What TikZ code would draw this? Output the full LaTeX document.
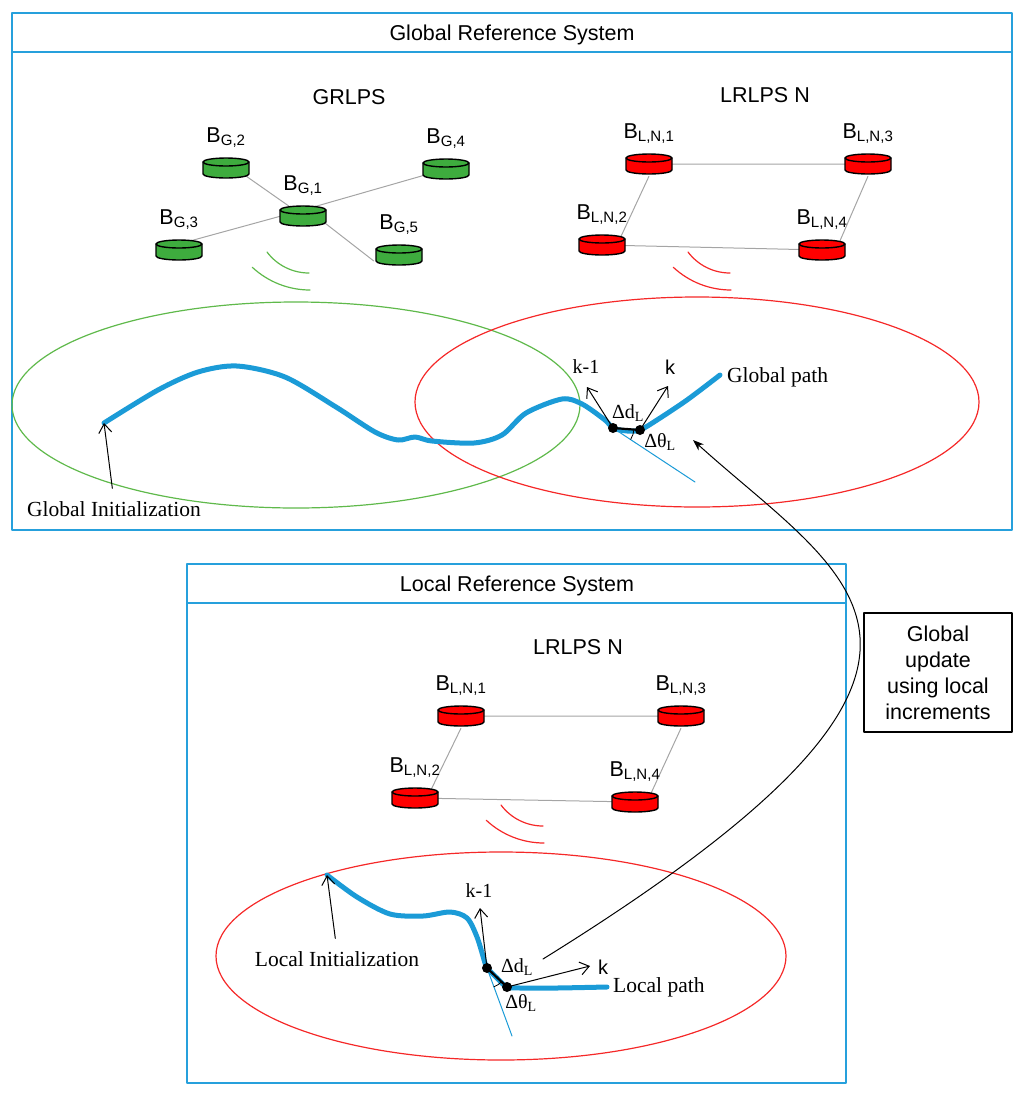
\documentclass[tikz,border=0pt]{standalone}
\usepackage{fontspec}
\setmainfont{Liberation Serif}
\setsansfont{Liberation Sans}
\usetikzlibrary{arrows.meta,backgrounds}
\definecolor{frameblue}{RGB}{38,160,220}
\definecolor{pathblue}{RGB}{27,155,215}
\definecolor{cangreen}{RGB}{62,172,62}
\definecolor{zonegreen}{RGB}{95,185,75}
\definecolor{canred}{RGB}{255,0,0}
\definecolor{zonered}{RGB}{245,40,40}
\definecolor{linkgray}{RGB}{165,165,165}

\begin{document}
\begin{tikzpicture}[x=1pt,y=-1pt,line join=round,line cap=round,
	font=\sffamily\fontsize{21.5}{26}\selectfont,
	>={Straight Barb[length=9pt,width=13pt]},
	every node/.style={inner sep=0pt},
	label distance=8pt,
	frame/.style={draw=frameblue,line width=2pt},
	zone/.style={line width=1.2pt},
	route/.style={draw=pathblue,line width=5pt},
	link/.style={draw=linkgray,line width=1pt},
	serif/.style={font=\rmfamily\fontsize{21.5}{26}\selectfont},
	small/.style={font=\rmfamily\fontsize{20}{24}\selectfont},
	can/.style={minimum width=50pt,minimum height=24pt,path picture={
		\draw[line width=1.4pt,fill=#1] ([shift={(-23pt,6pt)}]path picture bounding box.center) -- ++(0pt,-12pt)
			arc[start angle=180,end angle=360,x radius=23pt,y radius=4pt] -- ++(0pt,12pt)
			arc[start angle=0,end angle=180,x radius=23pt,y radius=4pt] -- cycle;
		\draw[line width=1.4pt] ([shift={(-23pt,6pt)}]path picture bounding box.center)
			arc[start angle=180,end angle=360,x radius=23pt,y radius=4pt];}}]
	
	\useasboundingbox (0,0) rectangle (1024,1096);
	\draw[frame] (12,13) rectangle (1012,530) (12,52) -- (1012,52); % global frame
	\draw[frame] (187,564) rectangle (846,1083) (187,603) -- (846,603); % local frame
	\node (gtitle) at (512,34.5) {Global Reference System};
	\node (ltitle) at (517,585.5) {Local Reference System};
	
	% zones
	\draw[zone,zonegreen] (296,405) ellipse[x radius=284pt,y radius=103pt];
	\draw[zone,zonered] (697,402) ellipse[x radius=282pt,y radius=105pt];
	\draw[zone,zonered] (501,956) ellipse[x radius=285pt,y radius=104pt];
	\foreach \x/\y/\c in {309/273/zonegreen,730/273/zonered,543/826/zonered}{
		\draw[zone,\c] (\x,\y) arc[start angle=270,end angle=217,radius=52.5pt];
		\draw[zone,\c] (\x+1,\y+17) arc[start angle=270,end angle=227,radius=84.6pt];
	}
	
	% beacons
	\node (grlps) at (349,97) {GRLPS};
	\node[can=cangreen,label={above:B\textsubscript{G,1}}] (g1) at (303,216) {};
	\node[can=cangreen,label={above:B\textsubscript{G,2}}] (g2) at (226,168) {};
	\node[can=cangreen,label={above:B\textsubscript{G,3}}] (g3) at (179,250) {};
	\node[can=cangreen,label={above:B\textsubscript{G,4}}] (g4) at (446,169) {};
	\node[can=cangreen,label={above:B\textsubscript{G,5}}] (g5) at (399,255) {};
	\node (lrlps) at (765,95) {LRLPS N};
	\node[can=canred,label={above:B\textsubscript{L,N,1}}] (n1) at (649,164) {};
	\node[can=canred,label={above:B\textsubscript{L,N,2}}] (n2) at (602,245) {};
	\node[can=canred,label={above:B\textsubscript{L,N,3}}] (n3) at (868,164) {};
	\node[can=canred,label={above:B\textsubscript{L,N,4}}] (n4) at (822,250) {};
	\node (llrlps) at (578,647) {LRLPS N};
	\node[can=canred,label={above:B\textsubscript{L,N,1}}] (m1) at (461,716) {};
	\node[can=canred,label={above:B\textsubscript{L,N,2}}] (m2) at (415,798) {};
	\node[can=canred,label={above:B\textsubscript{L,N,3}}] (m3) at (681,716) {};
	\node[can=canred,label={above:B\textsubscript{L,N,4}}] (m4) at (635,802) {};
	\begin{scope}[on background layer]
		\draw[link] ([yshift=6pt]g2.center) -- (g1.center);
		\draw[link] ([yshift=6pt]g3.center) -- ([yshift=6pt]g1.center);
		\draw[link] ([yshift=6pt]g1.center) -- (g4.center);
		\draw[link] ([yshift=10pt]g1.center) -- ([yshift=-6pt]g5.west);
		\draw[link] (n1.center) -- (n3.center) (n2.center) -- (n4.center);
		\draw[link] (n1.south) -- ([xshift=15pt]n2.center) (n3.south) -- ([xshift=14pt]n4.center);
		\draw[link] (m1.center) -- (m3.center) (m2.center) -- (m4.center);
		\draw[link] (m1.south) -- ([xshift=12pt]m2.center) (m3.south) -- ([xshift=12pt]m4.center);
	\end{scope}
	
	% global path
	\coordinate (gstart) at (104,423);
	\coordinate (gprev) at (613,428);
	\coordinate (gnext) at (640,430);
	\coordinate (gtan) at (695,482);
	\coordinate (gkm1) at (587,387);
	\coordinate (gk) at (668,386);
	\draw[route] plot[smooth] coordinates {(104,423) (158,390) (198,372) (237,366) (285,377) (336,407) (375,432) (398,440) (415,437) (432,441) (474,443) (502,435) (526,413) (562,399) (582,404) (605,420) (613,428) (627,431) (640,430) (657,420) (687,400) (720,375)};
	\draw[pathblue,line width=1pt] (gprev) -- (gtan);
	\draw[line width=2.2pt] (gprev) -- (gnext);
	\fill (gprev) circle[radius=5pt] (gnext) circle[radius=5pt];
	\draw[line width=0.8pt] (gprev) ++(-4:21pt) arc[start angle=-4,end angle=-33,radius=21pt];
	\draw[->,line width=1pt] (gprev) -- (gkm1);
	\draw[->,line width=1pt] (gnext) -- (gk);
	\node[small] (tgkm1) at (586,367) {k-1};
	\node[font=\sffamily\fontsize{20}{24}\selectfont] (tgk) at (670,367) {k};
	\node[small] (tgdd) at (628,413) {Δd\textsubscript{L}};
	\node[small] (tgdt) at (660,442) {Δθ\textsubscript{L}};
	\node[serif,anchor=west] (tgpath) at (727,377) {Global path};
	\node[serif] (ginit) at (114,509) {Global Initialization};
	\draw[->,line width=1pt,shorten <=13pt] (ginit.north) -- (gstart);
	
	% local path
	\coordinate (lstart) at (327,875);
	\coordinate (lprev) at (487,968);
	\coordinate (lnext) at (507,987);
	\coordinate (ltan) at (512,1036);
	\coordinate (lkm1) at (480,908);
	\coordinate (lk) at (590,966);
	\draw[route] plot[smooth] coordinates {(327,875) (357,897) (390,914) (423,916) (450,912) (467,918) (477,937) (485,963) (487,968) (497,978) (507,987) (523,988) (557,988) (607,987)};
	\draw[pathblue,line width=1pt] (lprev) -- (ltan);
	\draw[line width=2.2pt] (lprev) -- (lnext);
	\fill (lprev) circle[radius=5pt] (lnext) circle[radius=5pt];
	\draw[line width=0.8pt] (lprev) ++(-43:20pt) arc[start angle=-43,end angle=-70,radius=20pt];
	\draw[->,line width=1pt] (lprev) -- (lkm1);
	\draw[->,line width=1pt] (lnext) -- (lk);
	\node[small] (tlkm1) at (479,891) {k-1};
	\node[font=\sffamily\fontsize{20}{24}\selectfont] (tlk) at (603,967) {k};
	\node[small] (tldd) at (517,967) {Δd\textsubscript{L}};
	\node[small] (tldt) at (521,1003) {Δθ\textsubscript{L}};
	\node[serif,anchor=west] (tlpath) at (613,987) {Local path};
	\node[serif] (linit) at (337,959) {Local Initialization};
	\draw[->,line width=1pt,shorten <=13pt] (linit.north) -- (lstart);
	
	% global update
	\node[draw,line width=2pt,minimum width=148pt,minimum height=119pt,align=center] (upd) at (938,672.5) {Global\\update\\using local\\increments};
	\coordinate (lupd) at (543,959);
	\coordinate (gupd) at (693,440);
	\draw[-{Stealth[length=11pt,width=8pt]},line width=1pt] (lupd) .. controls (1030,657) and (850,582) .. (gupd);
\end{tikzpicture}
\end{document}
